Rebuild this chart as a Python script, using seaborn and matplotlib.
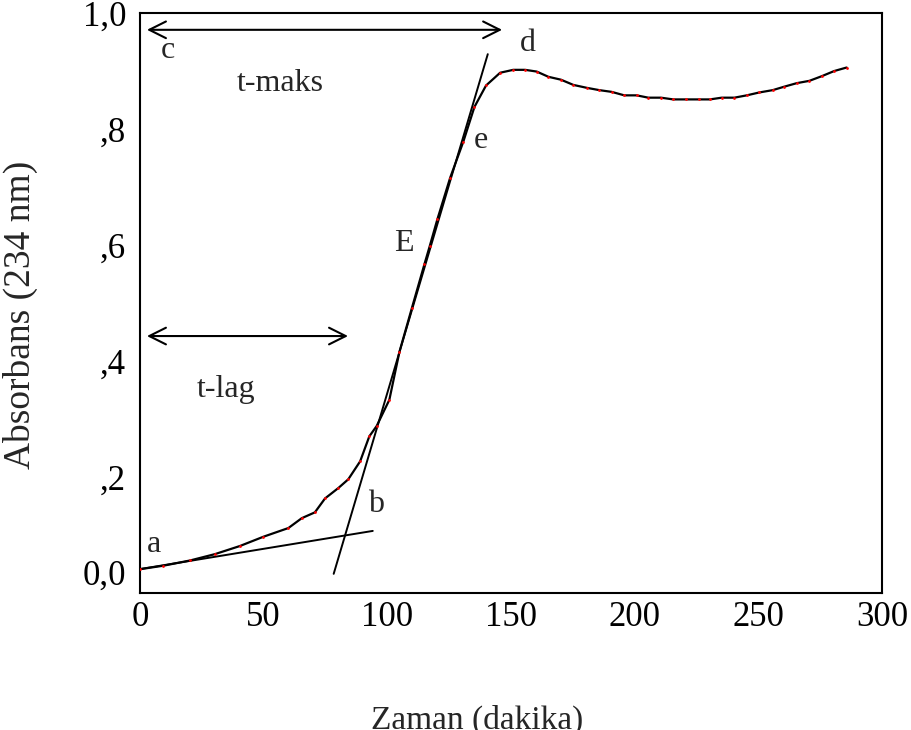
import matplotlib
matplotlib.use("Agg")
import matplotlib.pyplot as plt
import seaborn as sns
import pandas as pd

# absorbance curve (minutes, absorbance at 234 nm)
zaman = [0, 9.4, 20.2, 30.3, 40.4, 49.9, 60.0, 65.4, 70.7, 74.8, 80.2, 84.2, 89.0, 92.7,
         95.7, 100.8, 104.9, 109.9, 115.0, 117.2, 120.2, 125.4, 130.7, 135.2, 139.9, 145.6,
         150.9, 155.7, 160.4, 165.1, 170.2, 175.2, 180.6, 185.7, 190.7, 195.8, 200.8, 205.5,
         210.6, 215.6, 220.7, 225.8, 230.4, 235.2, 240.3, 245.3, 250.4, 255.8, 260.5, 265.5,
         270.6, 275.6, 280.7, 285.7]
absorbans = [0.041, 0.047, 0.056, 0.067, 0.081, 0.097, 0.112, 0.129, 0.139, 0.163, 0.181,
             0.196, 0.227, 0.270, 0.288, 0.333, 0.416, 0.491, 0.567, 0.599, 0.644, 0.716,
             0.778, 0.838, 0.875, 0.897, 0.902, 0.902, 0.899, 0.890, 0.885, 0.876, 0.871,
             0.867, 0.864, 0.858, 0.858, 0.854, 0.854, 0.851, 0.851, 0.851, 0.851, 0.854,
             0.854, 0.858, 0.863, 0.867, 0.873, 0.879, 0.883, 0.891, 0.900, 0.906]

# tangent lines (start / end points)
lag_x = [0.4, 94.1]
lag_y = [0.0415, 0.107]
steep_x = [78.3, 140.6]
steep_y = [0.033, 0.929]

# double arrows: (x start, x end, y)
tmaks_arrow = (2.8, 146.4, 0.971)
tlag_arrow = (2.8, 84.1, 0.443)

# point labels
labels = ["c", "t-maks", "d", "e", "E", "t-lag", "b", "a"]
label_x = [11.3, 56.6, 156.9, 137.9, 106.8, 34.8, 95.4, 5.7]
label_y = [0.936, 0.879, 0.948, 0.780, 0.602, 0.351, 0.152, 0.083]

xticks = [0, 50, 100, 150, 200, 250, 300]
yticks = [0.0, 0.2, 0.4, 0.6, 0.8, 1.0]
ytick_labels = ["0,0", ",2", ",4", ",6", ",8", "1,0"]

sns.set_style("white")
plt.rcParams['font.family'] = ['Liberation Serif', 'DejaVu Serif']

fig = plt.figure(figsize=(9.11, 7.30), dpi=100)
ax = fig.add_axes([0.1537, 0.1877, 0.8145, 0.7945])

df = pd.DataFrame({"zaman": zaman, "absorbans": absorbans})
sns.lineplot(data=df, x="zaman", y="absorbans", color="black", linewidth=1.6, ax=ax)
sns.scatterplot(data=df, x="zaman", y="absorbans", color="red", s=4, linewidth=0, ax=ax, zorder=3)

ax.plot(lag_x, lag_y, color="black", linewidth=1.4)
ax.plot(steep_x, steep_y, color="black", linewidth=1.4)

for x0, x1, y in [tmaks_arrow, tlag_arrow]:
    ax.annotate("", xy=(x1, y), xytext=(x0, y),
                arrowprops=dict(arrowstyle="<->", color="black", lw=1.5,
                                mutation_scale=30, shrinkA=0, shrinkB=0))

for t, x, y in zip(labels, label_x, label_y):
    ax.text(x, y, t, fontsize=23, ha="center", va="center")

ax.set_xlim(0, 300)
ax.set_ylim(0, 1.0)
ax.set_xticks(xticks)
ax.set_yticks(yticks)
ax.set_yticklabels(ytick_labels)
ax.tick_params(axis="both", direction="out", length=3, width=1.5, labelsize=25,
               color="black", labelcolor="black")
ax.tick_params(axis="x", pad=3)
ax.tick_params(axis="y", pad=7)
# the 0,0 label sits a little above its tick in the original
ax.get_yticklabels()[0].set_va("bottom")
for s in ax.spines.values():
    s.set_color("black")
    s.set_linewidth(1.5)

ax.set_xlabel("")
ax.set_ylabel("")
fig.text(20 / 911, 1 - 315 / 730, "Absorbans (234 nm)", rotation=90, fontsize=27,
         ha="center", va="center")
fig.text(477 / 911, 1 - 720 / 730, "Zaman (dakika)", fontsize=24, ha="center", va="center")

fig.savefig("out.png", dpi=100)
